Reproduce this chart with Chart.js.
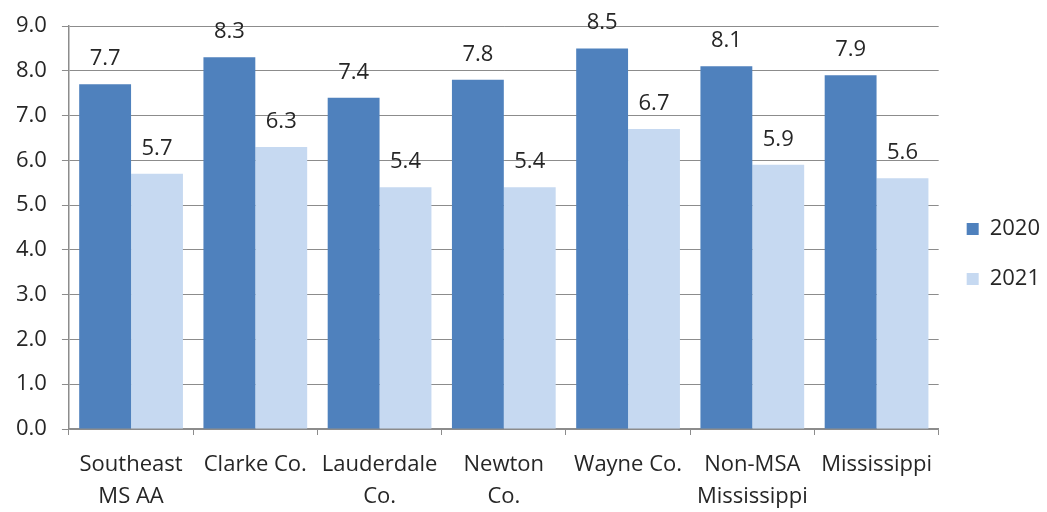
<!DOCTYPE html>
<html>
<head>
<meta charset="utf-8">
<script src="https://cdn.jsdelivr.net/npm/chart.js@4/dist/chart.umd.min.js"></script>
<style>
    html, body { margin: 0; padding: 0; background: #fff; }
    #wrap { width: 1047px; height: 512px; }
</style>
</head>
<body>
<div id="wrap"><canvas id="rateChart" width="1047" height="512"></canvas></div>
<script>
    // --- Data ---
    const categories = [
        ['Southeast', 'MS AA'],
        'Clarke Co.',
        ['Lauderdale', 'Co.'],
        ['Newton', 'Co.'],
        'Wayne Co.',
        ['Non-MSA', 'Mississippi'],
        'Mississippi'
    ];
    const values2020 = [7.7, 8.3, 7.4, 7.8, 8.5, 8.1, 7.9];
    const values2021 = [5.7, 6.3, 5.4, 5.4, 6.7, 5.9, 5.6];
    const seriesNames = ['2020', '2021'];

    const FONT = '"Open Sans", Lato, sans-serif';
    const TEXT = '#262626';
    const GRID = '#8c8c8c';

    // value labels above each bar
    const valueLabels = {
        id: 'valueLabels',
        afterDatasetsDraw(chart) {
            const ctx = chart.ctx;
            ctx.save();
            ctx.font = '22px ' + FONT;
            ctx.fillStyle = TEXT;
            ctx.textAlign = 'center';
            ctx.textBaseline = 'alphabetic';
            chart.data.datasets.forEach((ds, i) => {
                chart.getDatasetMeta(i).data.forEach((bar, j) => {
                    ctx.fillText(ds.data[j].toFixed(1), bar.x, bar.y - 19);
                });
            });
            ctx.restore();
        }
    };

    // category labels under the x axis (two lines, wide line spacing)
    const categoryLabels = {
        id: 'categoryLabels',
        afterDraw(chart) {
            const ctx = chart.ctx;
            const xs = chart.scales.x;
            ctx.save();
            ctx.font = '22px ' + FONT;
            ctx.fillStyle = TEXT;
            ctx.textAlign = 'center';
            ctx.textBaseline = 'middle';
            chart.data.labels.forEach((lbl, i) => {
                const lines = Array.isArray(lbl) ? lbl : [lbl];
                const x = xs.getPixelForValue(i);
                lines.forEach((line, k) => {
                    ctx.fillText(line, x, xs.top + 36 + k * 32);
                });
            });
            ctx.restore();
        }
    };

    // legend: a bit tighter to the right edge, centred on the canvas
    const legendTrim = {
        id: 'legendTrim',
        afterInit(chart) {
            const lg = chart.legend;
            const fit = lg.fit.bind(lg);
            lg.fit = function () {
                fit();
                this.width -= 3;
            };
        },
        afterLayout(chart) {
            chart.legend.top += 30;
            chart.legend.bottom += 30;
        }
    };

    new Chart(document.getElementById('rateChart'), {
        type: 'bar',
        data: {
            labels: categories,
            datasets: [
                { label: seriesNames[0], data: values2020, backgroundColor: '#4f81bd' },
                { label: seriesNames[1], data: values2021, backgroundColor: '#c6d9f1' }
            ]
        },
        options: {
            responsive: false,
            animation: false,
            barPercentage: 1.0,
            categoryPercentage: 0.835,
            layout: { padding: { top: 13, right: 0, bottom: 77, left: 1 } },
            plugins: {
                tooltip: { enabled: false },
                legend: {
                    position: 'right',
                    labels: {
                        boxWidth: 12,
                        boxHeight: 12,
                        padding: 28,
                        color: TEXT,
                        font: { family: FONT, size: 22 }
                    }
                }
            },
            scales: {
                x: {
                    grid: {
                        offset: true,
                        drawOnChartArea: false,
                        drawTicks: true,
                        tickLength: 6,
                        color: GRID
                    },
                    border: { color: GRID, width: 1.5 },
                    ticks: { display: false, autoSkip: false }
                },
                y: {
                    min: 0,
                    max: 9,
                    grid: { color: GRID, tickLength: 7, lineWidth: 1 },
                    border: { color: GRID, width: 1.5 },
                    ticks: {
                        stepSize: 1,
                        color: TEXT,
                        padding: 15,
                        font: { family: FONT, size: 22, lineHeight: 1 },
                        callback: v => v.toFixed(1)
                    }
                }
            }
        },
        plugins: [valueLabels, categoryLabels, legendTrim]
    });
</script>
</body>
</html>
